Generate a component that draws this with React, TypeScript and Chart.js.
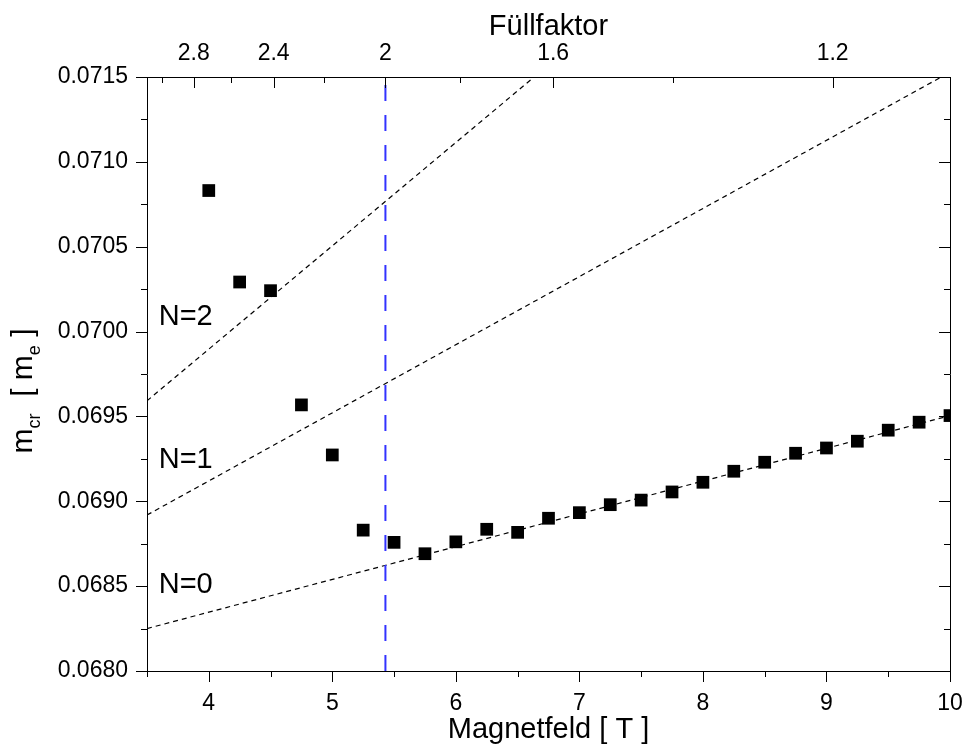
import React, { useEffect, useRef } from 'react';
import { Chart, registerables } from 'chart.js';

Chart.register(...registerables);

// ---- data ----
const magnetField = [4.0, 4.25, 4.5, 4.75, 5.0, 5.25, 5.5, 5.75, 6.0, 6.25, 6.5, 6.75, 7.0, 7.25, 7.5, 7.75, 8.0, 8.25, 8.5, 8.75, 9.0, 9.25, 9.5, 9.75, 10.0];
const massCr = [0.070831, 0.070292, 0.070241, 0.069568, 0.069273, 0.06883, 0.068758, 0.068691, 0.068761, 0.068835, 0.068817, 0.0689, 0.068933, 0.06898, 0.069007, 0.069055, 0.069112, 0.069177, 0.06923, 0.069283, 0.069314, 0.069354, 0.069419, 0.069466, 0.069505];

const n0LineB = [3.5, 10.0];
const n0LineM = [0.06825, 0.069505];
const n1LineB = [3.5, 9.93];
const n1LineM = [0.068919, 0.0715];
const n2LineB = [3.5, 6.634];
const n2LineM = [0.069592, 0.0715];

const nu2Field = 5.43;
const nu2LineM = [0.068, 0.0715];

const xTicks = [4, 5, 6, 7, 8, 9, 10];
const xMinorTicks = [3.5, 4.5, 5.5, 6.5, 7.5, 8.5, 9.5];
const yTicks = [0.068, 0.0685, 0.069, 0.0695, 0.07, 0.0705, 0.071, 0.0715];
const yMinorTicks = [0.06825, 0.06875, 0.06925, 0.06975, 0.07025, 0.07075, 0.07125];
const fillingTicks = [2.8, 2.4, 2.0, 1.6, 1.2];
const fillingMinorTicks = [3.0, 2.6, 2.2, 1.8, 1.4];
const B_PER_NU = 10.86;

const levelLabels = ['N=2', 'N=1', 'N=0'];
const levelLabelB = [3.595, 3.595, 3.595];
const levelLabelM = [0.07004, 0.069195, 0.068457];

const FONT = '"Liberation Sans", Arial, sans-serif';

const pts = (xs: number[], ys: number[]) => xs.map((x, i) => ({ x, y: ys[i] }));

const decorPlugin = {
  id: 'decor',
  afterDraw(chart: any) {
    const { ctx, chartArea: ca } = chart;
    const sx = chart.scales.x;
    const sy = chart.scales.y;
    ctx.save();
    ctx.strokeStyle = '#000';
    ctx.lineWidth = 1;
    const seg = (x1: number, y1: number, x2: number, y2: number) => {
      ctx.beginPath();
      ctx.moveTo(x1, y1);
      ctx.lineTo(x2, y2);
      ctx.stroke();
    };
    const al = (p: number) => Math.round(p) + 0.5;
    // bottom (outward)
    xTicks.forEach(v => { const p = al(sx.getPixelForValue(v)); seg(p, ca.bottom, p, ca.bottom + 11); });
    xMinorTicks.forEach(v => { const p = al(sx.getPixelForValue(v)); seg(p, ca.bottom, p, ca.bottom + 6); });
    // left (outward) and right (inward)
    yTicks.forEach(v => {
      const p = al(sy.getPixelForValue(v));
      seg(ca.left - 11, p, ca.left, p);
      seg(ca.right - 11, p, ca.right, p);
    });
    yMinorTicks.forEach(v => {
      const p = al(sy.getPixelForValue(v));
      seg(ca.left - 6, p, ca.left, p);
      seg(ca.right - 6, p, ca.right, p);
    });
    // top (inward)
    fillingTicks.forEach(nu => { const p = al(sx.getPixelForValue(B_PER_NU / nu)); seg(p, ca.top, p, ca.top + 11); });
    fillingMinorTicks.forEach(nu => { const p = al(sx.getPixelForValue(B_PER_NU / nu)); seg(p, ca.top, p, ca.top + 6); });

    // level labels
    ctx.fillStyle = '#000';
    ctx.font = `29px ${FONT}`;
    ctx.textAlign = 'left';
    ctx.textBaseline = 'alphabetic';
    levelLabels.forEach((t, i) => {
      ctx.fillText(t, sx.getPixelForValue(levelLabelB[i]), sy.getPixelForValue(levelLabelM[i]));
    });

    // y axis title with subscripts
    const parts: [string, boolean][] = [['m', false], ['cr', true], ['  [ ', false], ['m', false], ['e', true], [' ]', false]];
    const mainFont = `30px ${FONT}`;
    const subFont = `18px ${FONT}`;
    let total = 0;
    const widths = parts.map(([t, sub]) => { ctx.font = sub ? subFont : mainFont; const w = ctx.measureText(t).width; total += w; return w; });
    ctx.translate(32, 391);
    ctx.rotate(-Math.PI / 2);
    let cx = -total / 2;
    parts.forEach(([t, sub], i) => {
      ctx.font = sub ? subFont : mainFont;
      ctx.fillText(t, cx, sub ? 8 : 0);
      cx += widths[i];
    });
    ctx.restore();
  },
};

const noHPad = (s: any) => { s.paddingLeft = 0; s.paddingRight = 0; };
const noVPad = (s: any) => { s.paddingTop = 0; s.paddingBottom = 0; };

export default function App() {
  const ref = useRef<HTMLCanvasElement>(null);
  useEffect(() => {
    if (!ref.current) return;
    const tickFont = { size: 23, family: FONT };
    const titleFont = { size: 29, family: FONT };
    const chart = new Chart(ref.current, {
      type: 'scatter',
      data: {
        datasets: [
          {
            data: pts(magnetField, massCr),
            pointStyle: 'rect',
            pointRadius: 9,
            pointHoverRadius: 9,
            backgroundColor: '#000',
            borderColor: '#000',
            borderWidth: 0,
            showLine: false,
          },
          {
            data: pts([nu2Field, nu2Field], nu2LineM),
            showLine: true,
            borderColor: 'rgb(50,50,255)',
            borderWidth: 2,
            borderDash: [16, 14],
            pointRadius: 0,
          },
          {
            data: pts(n0LineB, n0LineM),
            showLine: true,
            borderColor: '#000',
            borderWidth: 1.2,
            borderDash: [5, 4],
            pointRadius: 0,
          },
          {
            data: pts(n1LineB, n1LineM),
            showLine: true,
            borderColor: '#000',
            borderWidth: 1.2,
            borderDash: [5, 4],
            pointRadius: 0,
          },
          {
            data: pts(n2LineB, n2LineM),
            showLine: true,
            borderColor: '#000',
            borderWidth: 1.2,
            borderDash: [5, 4],
            pointRadius: 0,
          },
        ],
      },
      options: {
        animation: false,
        responsive: false,
        maintainAspectRatio: false,
        layout: { padding: 0 },
        plugins: { legend: { display: false }, tooltip: { enabled: false } },
        scales: {
          x: {
            type: 'linear',
            position: 'bottom',
            min: 3.5,
            max: 10,
            afterBuildTicks: (s: any) => { s.ticks = xTicks.map(v => ({ value: v })); },
            afterFit: (s: any) => { s.height = 74; noHPad(s); },
            ticks: { font: tickFont, color: '#000', padding: 19, autoSkip: false, maxRotation: 0, callback: (v: any) => String(v) },
            grid: { display: false, drawTicks: false },
            border: { display: true, color: '#000', width: 1 },
            title: { display: true, text: 'Magnetfeld [ T ]', font: titleFont, color: '#000', padding: { top: 0, bottom: -2 } },
          },
          x2: {
            type: 'linear',
            position: 'top',
            min: 3.5,
            max: 10,
            afterBuildTicks: (s: any) => { s.ticks = fillingTicks.map(nu => ({ value: B_PER_NU / nu })); },
            afterFit: (s: any) => { s.height = 77; noHPad(s); },
            ticks: { font: tickFont, color: '#000', padding: 10, autoSkip: false, maxRotation: 0, callback: (v: any) => String(Number((B_PER_NU / v).toFixed(1))) },
            grid: { display: false, drawTicks: false },
            border: { display: true, color: '#000', width: 1 },
            title: { display: true, text: 'Füllfaktor', font: titleFont, color: '#000', padding: { top: 10, bottom: 0 } },
          },
          y: {
            type: 'linear',
            position: 'left',
            min: 0.068,
            max: 0.0715,
            afterBuildTicks: (s: any) => { s.ticks = yTicks.map(v => ({ value: v })); },
            afterFit: (s: any) => { s.width = 147; noVPad(s); },
            ticks: { font: tickFont, color: '#000', padding: 19, autoSkip: false, callback: (v: any) => Number(v).toFixed(4) },
            grid: { display: false, drawTicks: false },
            border: { display: true, color: '#000', width: 1 },
          },
          y2: {
            type: 'linear',
            position: 'right',
            min: 0.068,
            max: 0.0715,
            afterFit: (s: any) => { s.width = 14; noVPad(s); },
            ticks: { display: false },
            grid: { display: false, drawTicks: false },
            border: { display: true, color: '#000', width: 1 },
          },
        },
      } as any,
      plugins: [decorPlugin],
    });
    return () => chart.destroy();
  }, []);
  return (
    <div style={{ position: 'fixed', left: 0, top: 0, width: 964, height: 745, background: '#fff' }}>
      <canvas ref={ref} width={964} height={745} style={{ width: 964, height: 745, display: 'block' }} />
    </div>
  );
}
